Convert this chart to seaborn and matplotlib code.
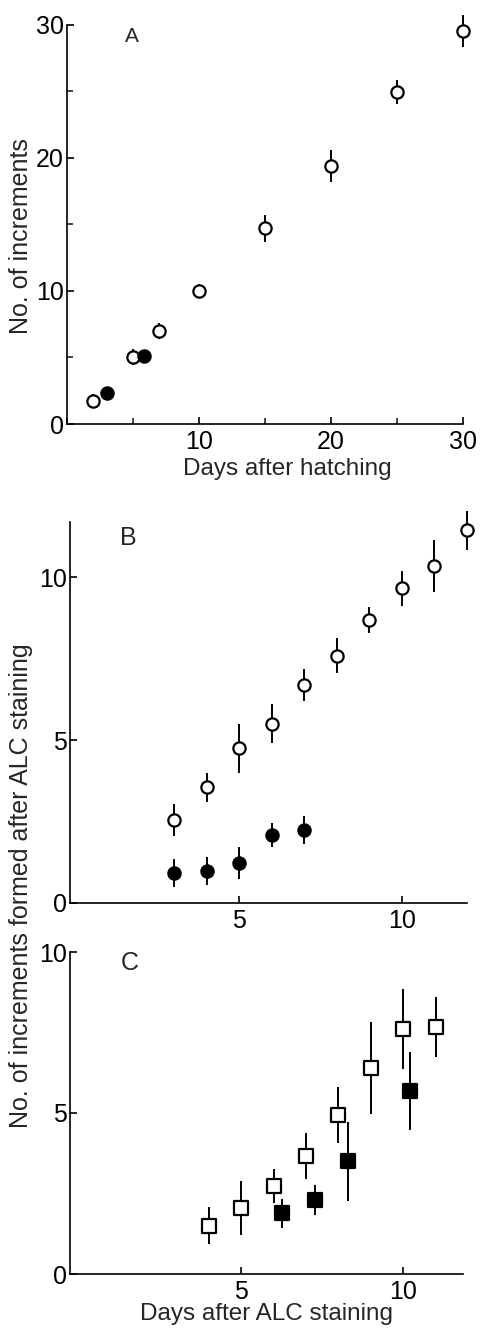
import numpy as np
import pandas as pd
import seaborn as sns
import matplotlib.pyplot as plt
from matplotlib.ticker import MultipleLocator

# Panel A: increments vs days after hatching
a_open_x = [2, 5, 7, 10, 15, 20, 25, 30]
a_open_y = [1.75, 5.05, 7.0, 10.0, 14.7, 19.4, 24.95, 29.55]
a_open_err = [0.5, 0.6, 0.6, 0.55, 1.0, 1.2, 0.9, 1.2]
a_fill_x = [3, 5.8]
a_fill_y = [2.3, 5.15]
a_fill_err = [0.4, 0.45]

# Panel B: increments formed after ALC staining (circles)
b_open_x = [3, 4, 5, 6, 7, 8, 9, 10, 11, 12]
b_open_y = [2.55, 3.55, 4.75, 5.5, 6.7, 7.6, 8.7, 9.66, 10.34, 11.44]
b_open_err = [0.5, 0.45, 0.75, 0.6, 0.5, 0.55, 0.4, 0.55, 0.8, 0.6]
b_fill_x = [3, 4, 5, 6, 7]
b_fill_y = [0.92, 0.98, 1.23, 2.09, 2.24]
b_fill_err = [0.42, 0.42, 0.5, 0.36, 0.42]

# Panel C: increments formed after ALC staining (squares)
c_open_x = [4, 5, 6, 7, 8, 9, 10, 11]
c_open_y = [1.5, 2.05, 2.73, 3.66, 4.94, 6.4, 7.61, 7.67]
c_open_err = [0.58, 0.84, 0.53, 0.72, 0.86, 1.42, 1.23, 0.92]
c_fill_x = [6.25, 7.27, 8.3, 10.2]
c_fill_y = [1.89, 2.3, 3.5, 5.68]
c_fill_err = [0.45, 0.47, 1.23, 1.2]

sns.set_theme(style="ticks")
plt.rcParams["font.family"] = ["Liberation Sans", "DejaVu Sans"]

fig = plt.figure(figsize=(4.82, 13.28), dpi=100)
W, H = 482, 1328
FS = 18


def caja(izq, der, arriba, abajo):
    # posiciones en pixeles -> fraccion de figura
    return fig.add_axes([izq / W, 1 - abajo / H, (der - izq) / W, (abajo - arriba) / H])


ax_a = caja(67, 463, 25, 424)
ax_b = caja(70, 467, 522, 903)
ax_c = caja(70, 463, 952, 1274)


def serie(ax, x, y, err, marker, relleno, size=78):
    barras = ax.errorbar(x, y, yerr=err, fmt="none", ecolor="black",
                         elinewidth=1.4, capsize=0, zorder=2)
    for linea in barras.lines[2]:
        linea.set_clip_on(False)
    df = pd.DataFrame({"x": x, "y": y})
    sns.scatterplot(data=df, x="x", y="y", ax=ax, marker=marker, s=size,
                    color=relleno, edgecolor="black", linewidth=1.6, zorder=3)
    ax.collections[-1].set_clip_on(False)


serie(ax_a, a_open_x, a_open_y, a_open_err, "o", "white")
serie(ax_a, a_fill_x, a_fill_y, a_fill_err, "o", "black")
serie(ax_b, b_open_x, b_open_y, b_open_err, "o", "white")
serie(ax_b, b_fill_x, b_fill_y, b_fill_err, "o", "black")
serie(ax_c, c_open_x, c_open_y, c_open_err, "s", "white", size=90)
serie(ax_c, c_fill_x, c_fill_y, c_fill_err, "s", "black", size=90)

ax_a.set_xlim(0, 30)
ax_a.set_ylim(0, 30)
ax_a.set_xticks([10, 20, 30])
ax_a.set_yticks([0, 10, 20, 30])
ax_a.xaxis.set_minor_locator(MultipleLocator(5))
ax_a.yaxis.set_minor_locator(MultipleLocator(5))

ax_b.set_xlim(-0.2, 12)
ax_b.set_ylim(0, 11.7)
ax_b.set_xticks([5, 10])
ax_b.set_yticks([0, 5, 10])

ax_c.set_xlim(-0.3, 11.85)
ax_c.set_ylim(0, 10)
ax_c.set_xticks([5, 10])
ax_c.set_yticks([0, 5, 10])

for ax in (ax_a, ax_b, ax_c):
    sns.despine(ax=ax)
    ax.set_xlabel("")
    ax.set_ylabel("")
    for lado in ("left", "bottom"):
        ax.spines[lado].set_linewidth(1.2)
        ax.spines[lado].set_color("black")
    ax.tick_params(which="major", direction="in", length=5, width=1.2,
                   labelsize=FS, colors="black")
    ax.tick_params(axis="x", which="major", pad=4)
    ax.tick_params(axis="y", which="major", pad=2.5)
    ax.tick_params(which="minor", direction="in", length=4, width=1.2)
    ax.set_facecolor("white")

# Letras de los paneles
ax_a.text(4.9, 29.1, "A", fontsize=15, ha="center", va="center")
ax_b.text(1.58, 11.2, "B", fontsize=FS, ha="center", va="center")
ax_c.text(1.56, 9.66, "C", fontsize=FS, ha="center", va="center")

# Etiquetas de los ejes
fig.text(21 / W, 1 - 236 / H, "No. of increments", rotation=90,
         fontsize=FS, ha="center", va="center")
fig.text(287 / W, 1 - 458 / H, "Days after hatching",
         fontsize=17.5, ha="center", va="top")
fig.text(21 / W, 1 - 886 / H, "No. of increments formed after ALC staining",
         rotation=90, fontsize=FS, ha="center", va="center")
fig.text(267 / W, 1 - 1303 / H, "Days after ALC staining",
         fontsize=17.5, ha="center", va="top")

fig.savefig("out.png", dpi=100, facecolor="white")
